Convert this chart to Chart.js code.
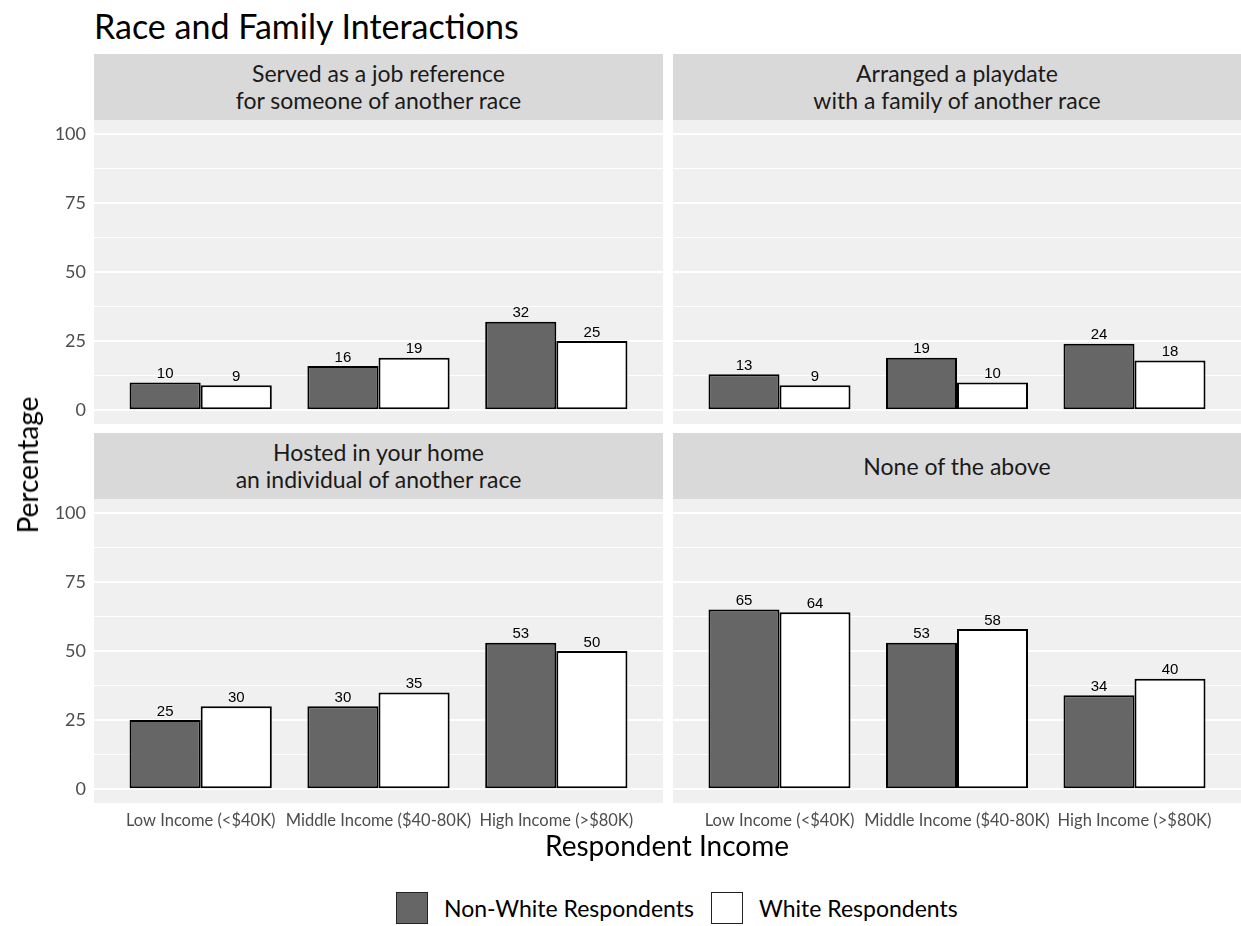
<!DOCTYPE html>
<html lang="en">
<head>
    <meta charset="UTF-8">
    <title>Race and Family Interactions</title>
    <script src="https://cdn.jsdelivr.net/npm/chart.js"></script>
    <style>
        body {
            margin: 0;
            background: #ffffff;
            font-family: Lato, "Open Sans", sans-serif;
        }
        #page {
            position: relative;
            width: 1241px;
            height: 926px;
            overflow: hidden;
        }
        .abs { position: absolute; }
        #title {
            left: 94px; top: 5px;
            font-size: 34px; color: #000;
        }
        .strip {
            background: #d9d9d9;
            color: #1a1a1a;
            font-size: 23px;
            line-height: 27px;
            display: flex;
            align-items: center;
            justify-content: center;
            text-align: center;
            white-space: pre;
        }
        #ytitle {
            left: 27px; top: 465px;
            transform: translate(-50%, -50%) rotate(-90deg);
            font-size: 28px; color: #000;
            white-space: nowrap;
        }
        #xtitle {
            left: 667px; top: 845px;
            transform: translate(-50%, -50%);
            font-size: 28px; color: #000;
            white-space: nowrap;
        }
        #legend {
            left: 396px; top: 892px;
            display: flex; align-items: center;
            font-size: 23px; color: #000;
        }
        .key {
            width: 32px; height: 32px;
            box-sizing: border-box;
            border: 1.5px solid #222;
            margin-right: 16px;
        }
    </style>
</head>
<body>
<div id="page">
    <div id="title" class="abs">Race and Family Interactions</div>

    <div id="strip0" class="abs strip" style="left:94px;top:54px;width:569px;height:66px;"></div>
    <div id="strip1" class="abs strip" style="left:673px;top:54px;width:568px;height:66px;"></div>
    <div id="strip2" class="abs strip" style="left:94px;top:433px;width:569px;height:66px;"></div>
    <div id="strip3" class="abs strip" style="left:673px;top:433px;width:568px;height:66px;"></div>

    <div class="abs" style="left:40px;top:120px;width:623px;height:304px;"><canvas id="c0"></canvas></div>
    <div class="abs" style="left:673px;top:120px;width:568px;height:304px;"><canvas id="c1"></canvas></div>
    <div class="abs" style="left:40px;top:499px;width:623px;height:338px;"><canvas id="c2"></canvas></div>
    <div class="abs" style="left:673px;top:499px;width:568px;height:338px;"><canvas id="c3"></canvas></div>

    <div id="ytitle" class="abs">Percentage</div>
    <div id="xtitle" class="abs">Respondent Income</div>

    <div id="legend" class="abs">
        <div class="key" style="background:#666666;"></div><span id="leg0"></span>
        <div class="key" style="background:#ffffff;margin-left:17px;"></div><span id="leg1"></span>
    </div>
</div>

<script>
    const incomeGroups = ['Low Income (<$40K)', 'Middle Income ($40-80K)', 'High Income (>$80K)'];
    const panelTitles = [
        'Served as a job reference\nfor someone of another race',
        'Arranged a playdate\nwith a family of another race',
        'Hosted in your home\nan individual of another race',
        'None of the above'
    ];
    const seriesNames = ['Non-White Respondents', 'White Respondents'];

    // percentages, one array per panel, in income-group order
    const nonWhiteJobRef = [10, 16, 32];
    const whiteJobRef = [9, 19, 25];
    const nonWhitePlaydate = [13, 19, 24];
    const whitePlaydate = [9, 10, 18];
    const nonWhiteHosted = [25, 30, 53];
    const whiteHosted = [30, 35, 50];
    const nonWhiteNone = [65, 53, 34];
    const whiteNone = [64, 58, 40];

    const yTicks = [0, 12.5, 25, 37.5, 50, 62.5, 75, 87.5, 100];

    const panels = [
        { nonWhite: nonWhiteJobRef, white: whiteJobRef },
        { nonWhite: nonWhitePlaydate, white: whitePlaydate },
        { nonWhite: nonWhiteHosted, white: whiteHosted },
        { nonWhite: nonWhiteNone, white: whiteNone }
    ];

    panelTitles.forEach((t, i) => {
        document.getElementById('strip' + i).textContent = t;
    });
    document.getElementById('leg0').textContent = seriesNames[0];
    document.getElementById('leg1').textContent = seriesNames[1];

    // grey panel background behind the plot area
    const panelBg = {
        id: 'panelBg',
        beforeDraw(chart) {
            const a = chart.chartArea;
            const ctx = chart.ctx;
            ctx.save();
            ctx.fillStyle = '#f0f0f0';
            ctx.fillRect(a.left, a.top, a.right - a.left, a.bottom - a.top);
            ctx.restore();
        }
    };

    // value labels on top of each bar
    const barLabels = {
        id: 'barLabels',
        afterDatasetsDraw(chart) {
            const ctx = chart.ctx;
            ctx.save();
            ctx.font = '15px "Liberation Sans", Arial, sans-serif';
            ctx.fillStyle = '#000';
            ctx.textAlign = 'center';
            ctx.textBaseline = 'bottom';
            chart.data.datasets.forEach((ds, di) => {
                chart.getDatasetMeta(di).data.forEach((bar, i) => {
                    ctx.fillText(ds.data[i].y, bar.x, bar.y - 1);
                });
            });
            ctx.restore();
        }
    };

    function toPoints(values) {
        return values.map((v, i) => ({ x: i + 1, y: v }));
    }

    function noPadding(scale) {
        scale.paddingTop = 0;
        scale.paddingBottom = 0;
        scale.paddingLeft = 0;
        scale.paddingRight = 0;
    }

    function makePanel(id, idx) {
        const isLeft = idx % 2 === 0;
        const isBottom = idx >= 2;
        const p = panels[idx];

        new Chart(document.getElementById(id), {
            type: 'bar',
            data: {
                datasets: [
                    {
                        label: seriesNames[0],
                        data: toPoints(p.nonWhite),
                        backgroundColor: '#666666',
                        borderColor: '#000000',
                        borderWidth: 2,
                        borderSkipped: false
                    },
                    {
                        label: seriesNames[1],
                        data: toPoints(p.white),
                        backgroundColor: '#ffffff',
                        borderColor: '#000000',
                        borderWidth: 2,
                        borderSkipped: false
                    }
                ]
            },
            options: {
                responsive: true,
                maintainAspectRatio: false,
                animation: false,
                layout: { padding: 0 },
                categoryPercentage: 0.8,
                barPercentage: 1.0,
                plugins: {
                    legend: { display: false },
                    tooltip: { enabled: false }
                },
                scales: {
                    x: {
                        type: 'linear',
                        min: 0.4,
                        max: 3.6,
                        offset: false,
                        display: isBottom,
                        grid: { display: false },
                        border: { display: false },
                        afterBuildTicks: (scale) => {
                            scale.ticks = [{ value: 1 }, { value: 2 }, { value: 3 }];
                        },
                        afterFit: (scale) => {
                            scale.height = isBottom ? 34 : 0;
                            noPadding(scale);
                        },
                        ticks: {
                            autoSkip: false,
                            maxRotation: 0,
                            padding: 0,
                            color: '#4d4d4d',
                            font: { family: 'Lato', size: 16.5 },
                            callback: (v) => incomeGroups[Math.round(v) - 1]
                        }
                    },
                    y: {
                        min: -5,
                        max: 105,
                        afterBuildTicks: (scale) => {
                            scale.ticks = yTicks.map(v => ({ value: v }));
                        },
                        afterFit: (scale) => {
                            scale.width = isLeft ? 54 : 0;
                            noPadding(scale);
                        },
                        border: { display: false },
                        grid: {
                            color: '#ffffff',
                            drawTicks: false,
                            lineWidth: (c) => (c.tick && c.tick.value % 25 === 0) ? 2 : 1
                        },
                        ticks: {
                            display: isLeft,
                            padding: 8,
                            color: '#4d4d4d',
                            font: { family: 'Lato', size: 18 },
                            callback: (v) => v % 25 === 0 ? v : ''
                        }
                    }
                }
            },
            plugins: [panelBg, barLabels]
        });
    }

    ['c0', 'c1', 'c2', 'c3'].forEach((id, i) => makePanel(id, i));
</script>
</body>
</html>
